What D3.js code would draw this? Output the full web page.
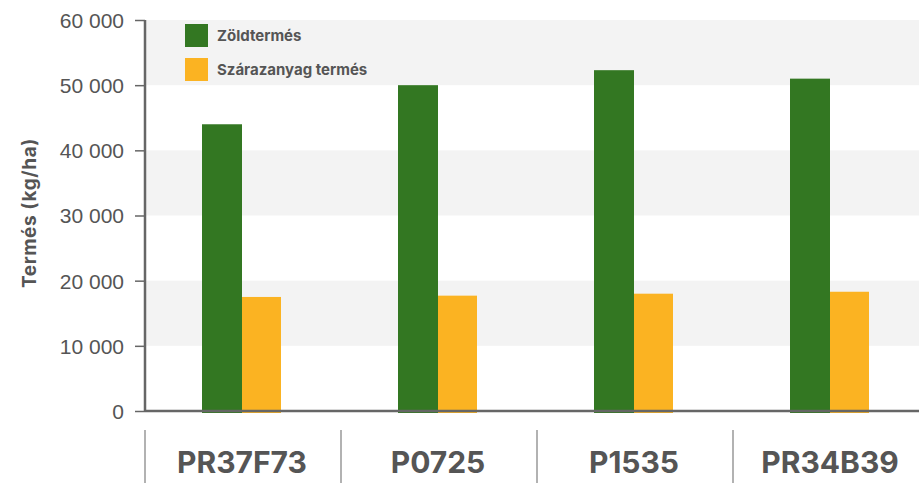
<!DOCTYPE html>
<html>
<head>
<meta charset="utf-8">
<script src="https://cdn.jsdelivr.net/npm/d3@7"></script>
<style>
  body { margin: 0; background: #fff; }
  svg { display: block; font-family: Inter, "Noto Sans", sans-serif; }
</style>
</head>
<body>
<svg width="919" height="483"></svg>
<script>
// hybrids on the x axis
const hybrids = ['PR37F73', 'P0725', 'P1535', 'PR34B39'];
// kg/ha
const zoldtermes = [44000, 50000, 52300, 51000];
const szarazanyag = [17500, 17700, 18000, 18300];
const seriesNames = ['Zöldtermés', 'Szárazanyag termés'];
const seriesColors = ['#337722', '#fbb322'];
const yTicks = [0, 10000, 20000, 30000, 40000, 50000, 60000];

const svg = d3.select('svg');
const plotLeft = 145;
const plotRight = 919;
const plotTop = 20;
const plotBottom = 411;

const x = d3.scaleBand().domain(hybrids).range([plotLeft, 929]);
const y = d3.scaleLinear().domain([0, 60000]).range([plotBottom, plotTop]);
const barW = 40;

const fmt = (v) => d3.format(',')(v).replace(/,/g, ' ');

// alternating background bands
for (let i = 0; i < yTicks.length - 1; i++) {
    if (i % 2 == 1) {
        svg.append('rect').
            attr('x', plotLeft).
            attr('y', y(yTicks[i + 1])).
            attr('width', plotRight - plotLeft).
            attr('height', y(yTicks[i]) - y(yTicks[i + 1])).
            style('fill', '#f3f3f3');
    }
}

// bars
const groups = svg.selectAll('.grp').data(hybrids).enter().append('g');
groups.append('rect').
    attr('x', d => x(d) + x.bandwidth() / 2 - barW - 1).
    attr('y', (d, i) => y(zoldtermes[i])).
    attr('width', barW).
    attr('height', (d, i) => y(0) - y(zoldtermes[i]) + 2).
    style('fill', seriesColors[0]);
groups.append('rect').
    attr('x', d => x(d) + x.bandwidth() / 2 - 1).
    attr('y', (d, i) => y(szarazanyag[i])).
    attr('width', barW - 1).
    attr('height', (d, i) => y(0) - y(szarazanyag[i]) + 2).
    style('fill', seriesColors[1]);

// y axis
const yAxis = svg.append('g').
    attr('transform', 'translate(' + plotLeft + ',0)').
    call(d3.axisLeft(y).tickValues(yTicks).tickFormat(fmt).tickSize(10).tickPadding(11));
yAxis.select('.domain').style('stroke', '#666').style('stroke-width', 2.5).attr('d', 'M0,' + plotTop + 'V' + plotBottom);
yAxis.selectAll('.tick line').style('stroke', '#666').style('stroke-width', 1.5);
yAxis.selectAll('.tick text').
    style('font-size', '21px').
    style('fill', '#555').
    attr('dy', '0.35em');

// baseline
svg.append('line').
    attr('x1', plotLeft).attr('x2', plotRight).
    attr('y1', plotBottom).attr('y2', plotBottom).
    style('stroke', '#666').style('stroke-width', 2.5);

// category separators and labels
svg.selectAll('.sep').data(hybrids).enter().append('line').
    attr('x1', d => x(d)).attr('x2', d => x(d)).
    attr('y1', 430).attr('y2', 483).
    style('stroke', '#999').style('stroke-width', 1.5);
svg.selectAll('.cat').data(hybrids).enter().append('text').
    attr('x', d => x(d) + x.bandwidth() / 2 - 1).
    attr('y', 473).
    attr('text-anchor', 'middle').
    style('font-size', '30px').
    style('font-weight', 'bold').
    style('fill', '#555').
    text(d => d);

// y title
svg.append('text').
    attr('transform', 'translate(36,' + 213 + ') rotate(-90)').
    attr('text-anchor', 'middle').
    style('font-size', '19px').
    style('letter-spacing', '0.6px').
    style('font-weight', 'bold').
    style('fill', '#555').
    text('Termés (kg/ha)');

// legend
const legend = svg.selectAll('.leg').data(seriesNames).enter().append('g').
    attr('transform', (d, i) => 'translate(185,' + (24 + i * 34) + ')');
legend.append('rect').
    attr('width', 23).attr('height', 23).
    style('fill', (d, i) => seriesColors[i]);
legend.append('text').
    attr('x', 32).attr('y', 17).
    style('font-size', '15px').
    style('font-weight', 'bold').
    style('fill', '#555').
    text(d => d);
</script>
</body>
</html>
